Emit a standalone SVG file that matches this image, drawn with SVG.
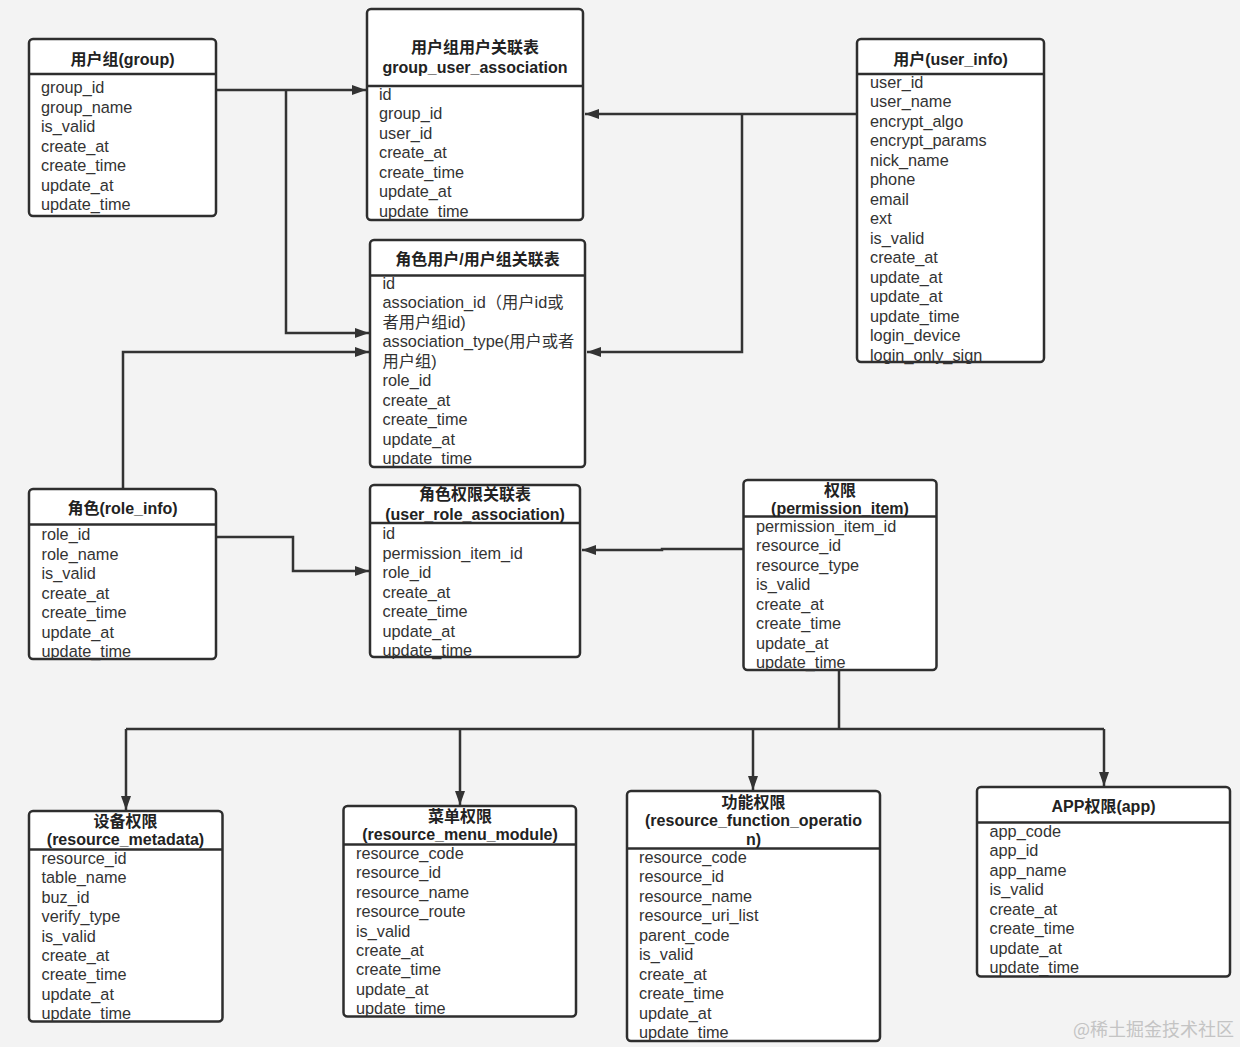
<svg xmlns="http://www.w3.org/2000/svg" width="1240" height="1047" viewBox="0 0 1240 1047">
<style>
.bg{fill:#f3f3f3}
.box{fill:#fff;stroke:#2e2e2e;stroke-width:2.5}
.hl{stroke:#2e2e2e;stroke-width:2.5}
.t{font-family:"Liberation Sans","Noto Sans CJK SC",sans-serif;font-size:16px;font-weight:bold;fill:#222;text-anchor:middle}
.f{font-family:"Liberation Sans","Noto Sans CJK SC",sans-serif;font-size:16.3px;fill:#333}
.c{fill:none;stroke:#333;stroke-width:2.5}
.wm{font-family:"Noto Sans CJK SC",sans-serif;font-size:18px;fill:#c4c4c4}
</style>
<defs>
<marker id="arr" viewBox="0 0 14 10" refX="14" refY="5" markerWidth="14" markerHeight="10" markerUnits="userSpaceOnUse" orient="auto">
<path d="M0,0 L14,5 L0,10 z" fill="#333"/>
</marker>
</defs>
<rect class="bg" x="0" y="0" width="1240" height="1047"/>

<g id="connectors">
<path class="c" d="M216,90 H366" marker-end="url(#arr)"/>
<path class="c" d="M286,90 V333 H369" marker-end="url(#arr)"/>
<path class="c" d="M857,114 H585" marker-end="url(#arr)"/>
<path class="c" d="M742,114 V352 H587" marker-end="url(#arr)"/>
<path class="c" d="M123,489 V352 H369" marker-end="url(#arr)"/>
<path class="c" d="M216,537 H293 V571 H369" marker-end="url(#arr)"/>
<path class="c" d="M743,549 H662 V550 H582" marker-end="url(#arr)"/>
<path class="c" d="M839,670 V729"/>
<path class="c" d="M126,729 H1104"/>
<path class="c" d="M126,729 V810" marker-end="url(#arr)"/>
<path class="c" d="M460,729 V805" marker-end="url(#arr)"/>
<path class="c" d="M753,729 V790" marker-end="url(#arr)"/>
<path class="c" d="M1104,729 V786" marker-end="url(#arr)"/>
</g>

<g id="group">
<rect class="box" x="29" y="39" width="187" height="177" rx="4"/>
<line class="hl" x1="29" y1="74" x2="216" y2="74"/>
<text class="t" x="122.5" y="65">用户组(group)</text>
<text class="f" x="41" y="93">group_id</text>
<text class="f" x="41" y="112.5">group_name</text>
<text class="f" x="41" y="132">is_valid</text>
<text class="f" x="41" y="151.5">create_at</text>
<text class="f" x="41" y="171">create_time</text>
<text class="f" x="41" y="190.5">update_at</text>
<text class="f" x="41" y="210">update_time</text>
</g>

<g id="group_user_association">
<rect class="box" x="367" y="9" width="216" height="211" rx="4"/>
<line class="hl" x1="367" y1="86" x2="583" y2="86"/>
<text class="t" x="475" y="53">用户组用户关联表</text>
<text class="t" x="475" y="72.5">group_user_association</text>
<text class="f" x="379" y="99.5">id</text>
<text class="f" x="379" y="119">group_id</text>
<text class="f" x="379" y="138.5">user_id</text>
<text class="f" x="379" y="158">create_at</text>
<text class="f" x="379" y="177.5">create_time</text>
<text class="f" x="379" y="197">update_at</text>
<text class="f" x="379" y="216.5">update_time</text>
</g>

<g id="user_info">
<rect class="box" x="857" y="39" width="187" height="323" rx="4"/>
<line class="hl" x1="857" y1="74" x2="1044" y2="74"/>
<text class="t" x="950.5" y="64.5">用户(user_info)</text>
<text class="f" x="870" y="87.5">user_id</text>
<text class="f" x="870" y="107">user_name</text>
<text class="f" x="870" y="126.5">encrypt_algo</text>
<text class="f" x="870" y="146">encrypt_params</text>
<text class="f" x="870" y="165.5">nick_name</text>
<text class="f" x="870" y="185">phone</text>
<text class="f" x="870" y="204.5">email</text>
<text class="f" x="870" y="224">ext</text>
<text class="f" x="870" y="243.5">is_valid</text>
<text class="f" x="870" y="263">create_at</text>
<text class="f" x="870" y="282.5">update_at</text>
<text class="f" x="870" y="302">update_at</text>
<text class="f" x="870" y="321.5">update_time</text>
<text class="f" x="870" y="341">login_device</text>
<text class="f" x="870" y="360.5">login_only_sign</text>
</g>

<g id="role_user_association">
<rect class="box" x="370" y="240" width="215" height="227" rx="4"/>
<line class="hl" x1="370" y1="275.5" x2="585" y2="275.5"/>
<text class="t" x="477.5" y="264.5">角色用户/用户组关联表</text>
<text class="f" x="382.5" y="288.5">id</text>
<text class="f" x="382.5" y="308">association_id（用户id或</text>
<text class="f" x="382.5" y="327.5">者用户组id)</text>
<text class="f" x="382.5" y="347">association_type(用户或者</text>
<text class="f" x="382.5" y="366.5">用户组)</text>
<text class="f" x="382.5" y="386">role_id</text>
<text class="f" x="382.5" y="405.5">create_at</text>
<text class="f" x="382.5" y="425">create_time</text>
<text class="f" x="382.5" y="444.5">update_at</text>
<text class="f" x="382.5" y="464">update_time</text>
</g>

<g id="role_info">
<rect class="box" x="29" y="489" width="187" height="170" rx="4"/>
<line class="hl" x1="29" y1="524.5" x2="216" y2="524.5"/>
<text class="t" x="122.5" y="513.5">角色(role_info)</text>
<text class="f" x="41.5" y="540">role_id</text>
<text class="f" x="41.5" y="559.5">role_name</text>
<text class="f" x="41.5" y="579">is_valid</text>
<text class="f" x="41.5" y="598.5">create_at</text>
<text class="f" x="41.5" y="618">create_time</text>
<text class="f" x="41.5" y="637.5">update_at</text>
<text class="f" x="41.5" y="657">update_time</text>
</g>

<g id="user_role_association">
<rect class="box" x="370" y="485" width="210" height="172" rx="4"/>
<line class="hl" x1="370" y1="523" x2="580" y2="523"/>
<text class="t" x="475" y="500">角色权限关联表</text>
<text class="t" x="475" y="519.5">(user_role_association)</text>
<text class="f" x="382.5" y="539">id</text>
<text class="f" x="382.5" y="558.5">permission_item_id</text>
<text class="f" x="382.5" y="578">role_id</text>
<text class="f" x="382.5" y="597.5">create_at</text>
<text class="f" x="382.5" y="617">create_time</text>
<text class="f" x="382.5" y="636.5">update_at</text>
<text class="f" x="382.5" y="656">update_time</text>
</g>

<g id="permission_item">
<rect class="box" x="743.5" y="480" width="193" height="190" rx="4"/>
<line class="hl" x1="743.5" y1="516.5" x2="936.5" y2="516.5"/>
<text class="t" x="840" y="495.5">权限</text>
<text class="t" x="840" y="513.5">(permission_item)</text>
<text class="f" x="756" y="531.5">permission_item_id</text>
<text class="f" x="756" y="551">resource_id</text>
<text class="f" x="756" y="570.5">resource_type</text>
<text class="f" x="756" y="590">is_valid</text>
<text class="f" x="756" y="609.5">create_at</text>
<text class="f" x="756" y="629">create_time</text>
<text class="f" x="756" y="648.5">update_at</text>
<text class="f" x="756" y="668">update_time</text>
</g>

<g id="resource_metadata">
<rect class="box" x="29" y="811" width="193.5" height="210.5" rx="4"/>
<line class="hl" x1="29" y1="849.5" x2="222.5" y2="849.5"/>
<text class="t" x="125.5" y="826.5">设备权限</text>
<text class="t" x="125.5" y="845">(resource_metadata)</text>
<text class="f" x="41.5" y="864">resource_id</text>
<text class="f" x="41.5" y="883.4">table_name</text>
<text class="f" x="41.5" y="902.8">buz_id</text>
<text class="f" x="41.5" y="922.2">verify_type</text>
<text class="f" x="41.5" y="941.6">is_valid</text>
<text class="f" x="41.5" y="961">create_at</text>
<text class="f" x="41.5" y="980.4">create_time</text>
<text class="f" x="41.5" y="999.8">update_at</text>
<text class="f" x="41.5" y="1019.2">update_time</text>
</g>

<g id="resource_menu_module">
<rect class="box" x="343.5" y="806" width="232.5" height="210.5" rx="4"/>
<line class="hl" x1="343.5" y1="844.5" x2="576" y2="844.5"/>
<text class="t" x="460" y="821.5">菜单权限</text>
<text class="t" x="460" y="840">(resource_menu_module)</text>
<text class="f" x="356" y="859">resource_code</text>
<text class="f" x="356" y="878.4">resource_id</text>
<text class="f" x="356" y="897.8">resource_name</text>
<text class="f" x="356" y="917.2">resource_route</text>
<text class="f" x="356" y="936.6">is_valid</text>
<text class="f" x="356" y="956">create_at</text>
<text class="f" x="356" y="975.4">create_time</text>
<text class="f" x="356" y="994.8">update_at</text>
<text class="f" x="356" y="1014.2">update_time</text>
</g>

<g id="resource_function_operation">
<rect class="box" x="627" y="791" width="253" height="250" rx="4"/>
<line class="hl" x1="627" y1="848.5" x2="880" y2="848.5"/>
<text class="t" x="753.5" y="807.5">功能权限</text>
<text class="t" x="753.5" y="826">(resource_function_operatio</text>
<text class="t" x="753.5" y="845">n)</text>
<text class="f" x="639" y="862.5">resource_code</text>
<text class="f" x="639" y="882">resource_id</text>
<text class="f" x="639" y="901.5">resource_name</text>
<text class="f" x="639" y="921">resource_uri_list</text>
<text class="f" x="639" y="940.5">parent_code</text>
<text class="f" x="639" y="960">is_valid</text>
<text class="f" x="639" y="979.5">create_at</text>
<text class="f" x="639" y="999">create_time</text>
<text class="f" x="639" y="1018.5">update_at</text>
<text class="f" x="639" y="1038">update_time</text>
</g>

<g id="app">
<rect class="box" x="977" y="787" width="253" height="189.5" rx="4"/>
<line class="hl" x1="977" y1="822.5" x2="1230" y2="822.5"/>
<text class="t" x="1103.5" y="811.5">APP权限(app)</text>
<text class="f" x="989.5" y="836.5">app_code</text>
<text class="f" x="989.5" y="856">app_id</text>
<text class="f" x="989.5" y="875.5">app_name</text>
<text class="f" x="989.5" y="895">is_valid</text>
<text class="f" x="989.5" y="914.5">create_at</text>
<text class="f" x="989.5" y="934">create_time</text>
<text class="f" x="989.5" y="953.5">update_at</text>
<text class="f" x="989.5" y="973">update_time</text>
</g>

<text class="wm" x="1073" y="1036">@稀土掘金技术社区</text>
</svg>
